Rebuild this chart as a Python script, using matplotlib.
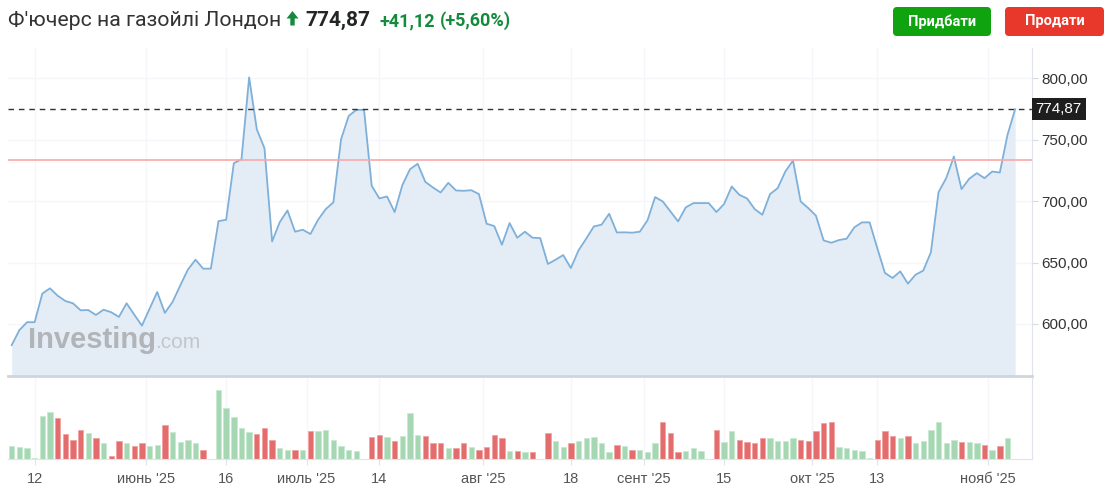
import numpy as np
import matplotlib.pyplot as plt
from matplotlib.patches import FancyBboxPatch, Polygon
from matplotlib.transforms import IdentityTransform, blended_transform_factory

# daily closes, index 1..132 (7 May .. 6 Nov 2025)
price = [582.7, 594.9, 601.4, 601.4, 624.7, 629.0, 623.0, 618.7, 616.8, 611.1,
         611.3, 607.3, 611.6, 609.5, 605.7, 616.8, 607.6, 598.6, 612.2, 626.0,
         609.0, 617.9, 631.2, 644.2, 652.3, 645.0, 645.0, 683.7, 684.8, 730.9,
         734.1, 800.8, 758.5, 743.1, 667.2, 682.9, 692.4, 675.1, 676.7, 673.2,
         684.8, 693.5, 699.0, 750.4, 769.4, 774.3, 774.3, 712.5, 702.2, 703.8,
         691.1, 713.0, 726.0, 730.4, 715.7, 711.1, 707.0, 714.9, 708.7, 708.4,
         708.9, 705.7, 681.6, 679.7, 664.5, 682.1, 670.2, 675.1, 670.2, 669.9,
         648.8, 652.3, 656.1, 645.5, 659.9, 669.4, 679.4, 680.8, 689.7, 674.5,
         674.6, 674.3, 675.1, 684.3, 703.3, 699.7, 691.6, 683.5, 694.9, 698.4,
         698.4, 698.4, 691.1, 697.6, 711.9, 705.1, 702.2, 693.5, 688.9, 705.7,
         710.6, 724.1, 733.1, 699.7, 694.3, 688.1, 668.0, 666.1, 668.3, 669.4,
         678.6, 682.7, 682.7, 661.8, 641.5, 637.4, 642.8, 632.8, 640.1, 643.4,
         658.3, 707.3, 718.7, 736.3, 709.8, 718.2, 722.8, 718.7, 724.1, 723.3,
         753.9, 774.87]

nan = float('nan')
volume = [40, 36, 33, 4, 130, 141, 123, 75, 59, 89,
          78, 63, 48, 10, 55, 48, 40, 48, 40, 43,
          104, 82, 52, 58, 48, 29, nan, 208, 153, 126,
          93, 82, 75, 93, 59, 33, 29, 29, 29, 85,
          85, 89, 59, 40, 28, 25, nan, 66, 74, 66,
          55, 70, 138, 74, 70, 48, 48, 33, 33, 48,
          36, 29, 36, 74, 63, 25, 25, 22, 22, nan,
          78, 55, 36, 48, 55, 63, 66, 48, 22, 44,
          40, 29, 29, 22, 48, 112, 78, 22, 25, 33,
          25, nan, 89, 52, 85, 59, 52, 48, 63, 63,
          55, 55, 63, 59, 55, 85, 108, 112, 36, 33,
          29, 25, 4, 59, 85, 70, 63, 70, 48, 55,
          89, 112, 48, 59, 52, 52, 48, 44, 29, 40,
          63, nan]

tick_pos = [4, 18.5, 29, 39.5, 49, 62.5, 74, 83.5, 94, 105.5, 114, 128.5]
tick_labels = ['12', "июнь '25", '16', "июль '25", '14', "авг '25", '18',
               "сент '25", '15', "окт '25", '13', "нояб '25"]
price_ticks = [600, 650, 700, 750, 800]
prev_close = 733.75
last = 774.87
title = "Ф'ючерс на газойлі Лондон"
last_txt = '774,87'
change = '+41,12'
change_pct = '(+5,60%)'

W, H = 1111, 498
x = np.arange(1, len(price) + 1)
vol = np.array(volume, dtype=float)
up = np.r_[True, np.diff(price) >= 0]

fig = plt.figure(figsize=(W / 100, H / 100), dpi=100)
ax = fig.add_axes([8 / W, 1 - 376 / H, 1024 / W, 328 / H])
axv = fig.add_axes([8 / W, 1 - 459.3 / H, 1024 / W, 81.3 / H])

# price panel
ax.fill_between(x, price, 500, color='#e4edf6', lw=0)
ax.plot(x, price, color='#7eb0d9', lw=1.3)
ax.axhline(prev_close, color='#f8a8a8', lw=1.2)
ax.axhline(last, color='#333333', lw=1, dashes=(4, 3.5))
ax.set_xlim(0.52, 134.2)
ax.set_ylim(557.6, 824.7)
ax.set_xticks(tick_pos)
ax.set_xticklabels([])
ax.tick_params(axis='x', length=0)
ax.yaxis.tick_right()
ax.set_yticks(price_ticks)
ax.set_yticklabels([f'{v:.2f}'.replace('.', ',') for v in price_ticks],
                   family='Liberation Sans')
ax.tick_params(axis='y', length=4, color='#d6dae2', labelsize=11,
               labelcolor='#333333', pad=3)
ax.grid(color='#f5f6f9', lw=1)
ax.set_axisbelow(True)
for s in ['top', 'left']:
    ax.spines[s].set_visible(False)
ax.spines['right'].set_color('#e0e3eb')
ax.spines['bottom'].set_color('#cfd5dd')
ax.spines['bottom'].set_linewidth(2)

tr = blended_transform_factory(ax.transAxes, ax.transData)
ax.text(1.0 + 4 / W, last, last_txt, transform=tr, ha='left', va='center',
        color='white', fontsize=11, family='Liberation Sans',
        bbox=dict(boxstyle='square,pad=0.25', fc='#1e1e1e', ec='none'))

# watermark
fig.text(28 / W, 1 - 348 / H, 'Investing', fontsize=21, weight='bold',
         color='#b1b4b8', family='Liberation Sans')
fig.text(155 / W, 1 - 348 / H, '.com', fontsize=15,
         color='#c3c6ca', family='Liberation Sans')

# volume panel
m = ~np.isnan(vol)
cols = np.where(up, '#a6d7b3', '#e36c6c')
edges = np.where(up, '#c9e9d2', '#f2a3a3')
axv.bar(x[m], vol[m], width=0.7, color=cols[m], edgecolor=edges[m], lw=0.6)
axv.set_xlim(0.52, 134.2)
axv.set_ylim(0, 244)
axv.set_yticks([])
axv.set_xticks(tick_pos)
axv.set_xticklabels(tick_labels, family='Liberation Sans')
axv.tick_params(axis='x', length=4, color='#e0e3eb', labelsize=10.5,
                labelcolor='#555555', pad=5)
axv.grid(axis='x', color='#f5f6f9', lw=1)
axv.set_axisbelow(True)
for s in ['top', 'left']:
    axv.spines[s].set_visible(False)
axv.spines['right'].set_color('#e0e3eb')
axv.spines['bottom'].set_color('#e0e3eb')

# header
hf = ['Roboto', 'DejaVu Sans']
fig.text(8 / W, 1 - 26 / H, title, fontsize=15.3, color='#333333', family=hf)
arrow = [(292.5, 11), (286.5, 18.5), (290.3, 18.5), (290.3, 25.5),
         (294.7, 25.5), (294.7, 18.5), (298.5, 18.5)]
fig.add_artist(Polygon([(a / W, 1 - b / H) for a, b in arrow],
                       closed=True, transform=fig.transFigure,
                       fc='#138a3c', ec='none'))
fig.text(305 / W, 1 - 26 / H, last_txt, fontsize=15, weight='bold',
         color='#232526', family=hf)
fig.text(380 / W, 1 - 26 / H, change, fontsize=13, weight='bold',
         color='#138a3c', family=hf)
fig.text(440 / W, 1 - 26 / H, change_pct, fontsize=13, weight='bold',
         color='#138a3c', family=hf)

# buttons
for x0, x1, fc, label in [(893, 991, '#10a310', 'Придбати'),
                          (1005, 1104, '#e8372b', 'Продати')]:
    fig.add_artist(FancyBboxPatch((x0, H - 36), x1 - x0, 29,
                                  boxstyle='round,pad=0,rounding_size=4',
                                  transform=IdentityTransform(),
                                  fc=fc, ec='none'))
    fig.text((x0 + x1) / 2 / W, 1 - 21.5 / H, label, ha='center', va='center',
             color='white', fontsize=10.5, weight='bold', family=hf)

fig.savefig('out.png', dpi=100)
